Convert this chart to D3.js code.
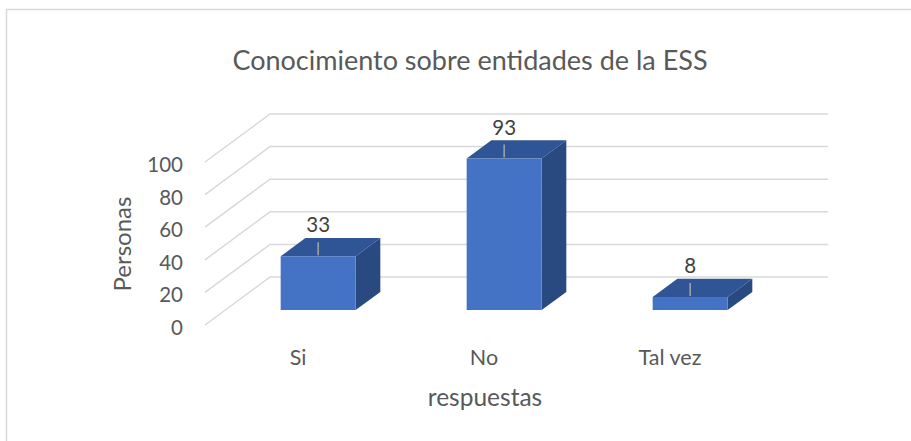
<!DOCTYPE html>
<html><head><meta charset="utf-8">
<script src="https://cdn.jsdelivr.net/npm/d3@7"></script>
<style>body{margin:0;background:#fff}svg{display:block}text{font-family:Lato,"Open Sans",sans-serif}</style>
</head><body><svg id="c" width="911" height="441"></svg>
<script>
const categories = ["Si", "No", "Tal vez"];
const values = [33, 93, 8];
const yTicks = [0, 20, 40, 60, 80, 100];
const titleText = "Conocimiento sobre entidades de la ESS";
const xTitle = "respuestas";
const yTitle = "Personas";

const svg = d3.select("#c");
const txt = "#595959";
// frame
svg.append("rect").attr("x",6.5).attr("y",9.5).attr("width",920).attr("height",440)
  .attr("fill","#fff").attr("stroke","#d9d9d9").attr("stroke-width",1.5);

// 3D geometry
const floorY = 325, left = 205, right = 763, depX = 65, depY = 48;
const h = d3.scaleLinear().domain([0,100]).range([0,163]);
const x = d3.scaleBand().domain(categories).range([left,right]).paddingInner(0.597).paddingOuter(0.2985);
const P = (px, v, d) => [px + depX*d, floorY - h(v) - depY*d];

// gridlines
const g = svg.append("g");
yTicks.forEach(t => {
  const a = P(left, t, 0), b = P(left, t, 1), c = P(right, t, 1);
  g.append("polyline").attr("points",[a,b,c].map(p=>p.join(",")).join(" "))
    .attr("fill","none").attr("stroke","#d9d9d9").attr("stroke-width",1.5);
  g.append("text").attr("x",183).attr("y",a[1]+10).attr("text-anchor","end")
    .attr("font-size",20.5).attr("fill",txt).text(t);
});

// bars
const d0 = 0.31, d1 = 0.69;
categories.forEach((cat, i) => {
  const v = values[i];
  const x0 = x(cat), x1 = x(cat) + x.bandwidth();
  const poly = (pts, fill) => svg.append("polygon").attr("points", pts.map(p=>p.join(",")).join(" ")).attr("fill", fill);
  poly([P(x0,v,d0),P(x1,v,d0),P(x1,v,d1),P(x0,v,d1)], "#2F5597");
  poly([P(x1,0,d0),P(x1,v,d0),P(x1,v,d1),P(x1,0,d1)], "#294A80");
  poly([P(x0,0,d0),P(x1,0,d0),P(x1,v,d0),P(x0,v,d0)], "#4472C4");
  const c = P((x0+x1)/2, v, d0);
  svg.append("line").attr("x1",c[0]).attr("x2",c[0]).attr("y1",c[1]-1).attr("y2",c[1]-14)
    .attr("stroke","#A6A6A6").attr("stroke-width",1.5);
  svg.append("text").attr("x",c[0]).attr("y",c[1]-24).attr("text-anchor","middle")
    .attr("font-size",20.5).attr("fill","#404040").text(v);
  svg.append("text").attr("x",x(cat)+x.bandwidth()/2).attr("y",365).attr("text-anchor","middle")
    .attr("font-size",21.5).attr("fill",txt).text(cat);
});

svg.append("text").attr("x",470).attr("y",70).attr("text-anchor","middle")
  .attr("font-size",27).attr("fill",txt).text(titleText);
svg.append("text").attr("x",485).attr("y",406).attr("text-anchor","middle")
  .attr("font-size",24.5).attr("fill",txt).text(xTitle);
svg.append("text").attr("transform","translate(131,244) rotate(-90)").attr("text-anchor","middle")
  .attr("font-size",24).attr("fill",txt).text(yTitle);
</script></body></html>
